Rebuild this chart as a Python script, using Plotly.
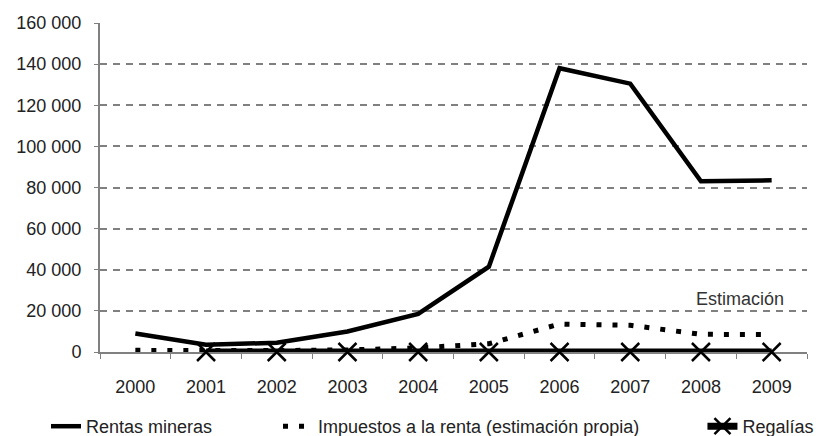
import plotly.graph_objects as go

# Datos
years = [2000, 2001, 2002, 2003, 2004, 2005, 2006, 2007, 2008, 2009]
rentas_mineras = [9000, 3500, 4500, 10000, 18500, 41500, 138000, 130500, 83000, 83500]
impuestos_renta = [800, 500, 700, 1000, 2000, 4000, 13600, 13000, 8600, 8500]
regalias = [None, 0, 0, 0, 0, 0, 0, 0, 0, 0]
y_ticks = [0, 20000, 40000, 60000, 80000, 100000, 120000, 140000, 160000]

FONT = "Liberation Sans, Arial, sans-serif"
FSIZE = 18

fig = go.Figure()

fig.add_trace(go.Scatter(
    x=years, y=rentas_mineras,
    mode="lines",
    name="Rentas mineras",
    line=dict(color="black", width=4.5),
    cliponaxis=False,
    legend="legend",
))

fig.add_trace(go.Scatter(
    x=years, y=impuestos_renta,
    mode="lines",
    name="Impuestos a la renta (estimación propia)",
    line=dict(color="black", width=5, dash="5px,11px"),
    cliponaxis=False,
    legend="legend2",
))

fig.add_trace(go.Scatter(
    x=years, y=regalias,
    mode="lines+markers",
    name="Regalías",
    line=dict(color="black", width=7),
    marker=dict(symbol="x-thin", size=18, color="black",
                line=dict(color="black", width=2.5)),
    cliponaxis=False,
    legend="legend3",
))

fig.add_annotation(
    x=2008, y=26000, xref="x", yref="y",
    text="Estimación", showarrow=False,
    xanchor="center", yanchor="middle", xshift=39,
    font=dict(family=FONT, size=FSIZE, color="#333333"),
)

# la página tiene 8 px de margen en el body: la figura se compensa
legend_common = dict(
    orientation="h", xref="container", yref="container",
    yanchor="top", y=0.0654, xanchor="left",
    font=dict(family=FONT, size=FSIZE, color="#222222"),
    bgcolor="rgba(0,0,0,0)",
)

fig.update_layout(
    width=817, height=428,
    margin=dict(l=92, r=18, t=15, b=84, autoexpand=False),
    plot_bgcolor="white",
    paper_bgcolor="white",
    separators=". ",
    font=dict(family=FONT, size=FSIZE, color="#222222"),
    showlegend=True,
    legend=dict(x=0.0465, **legend_common),
    legend2=dict(x=0.3305, **legend_common),
    legend3=dict(x=0.85, **legend_common),
    xaxis=dict(
        range=[1999.5, 2009.5],
        automargin=False,
        tickvals=years,
        tickformat="d",
        ticks="",
        ticklabelstandoff=17,
        layer="below traces",
        showline=True, linecolor="#808080", linewidth=2,
        minor=dict(ticks="outside", tick0=1999.5, dtick=1, ticklen=5,
                   tickcolor="#808080", tickwidth=1, showgrid=False),
        showgrid=False, zeroline=False,
        tickfont=dict(family=FONT, size=FSIZE, color="#222222"),
    ),
    yaxis=dict(
        range=[0, 160000],
        automargin=False,
        tickvals=y_ticks,
        tickformat=",d",
        showline=True, linecolor="#808080", linewidth=2,
        ticks="outside", ticklen=4, tickcolor="#808080", tickwidth=1,
        ticklabelstandoff=9,
        layer="below traces",
        showgrid=True, gridcolor="#808080", gridwidth=1.5, griddash="7px,6px",
        zeroline=False,
        tickfont=dict(family=FONT, size=FSIZE, color="#222222"),
    ),
)

fig.write_html("out.html")
